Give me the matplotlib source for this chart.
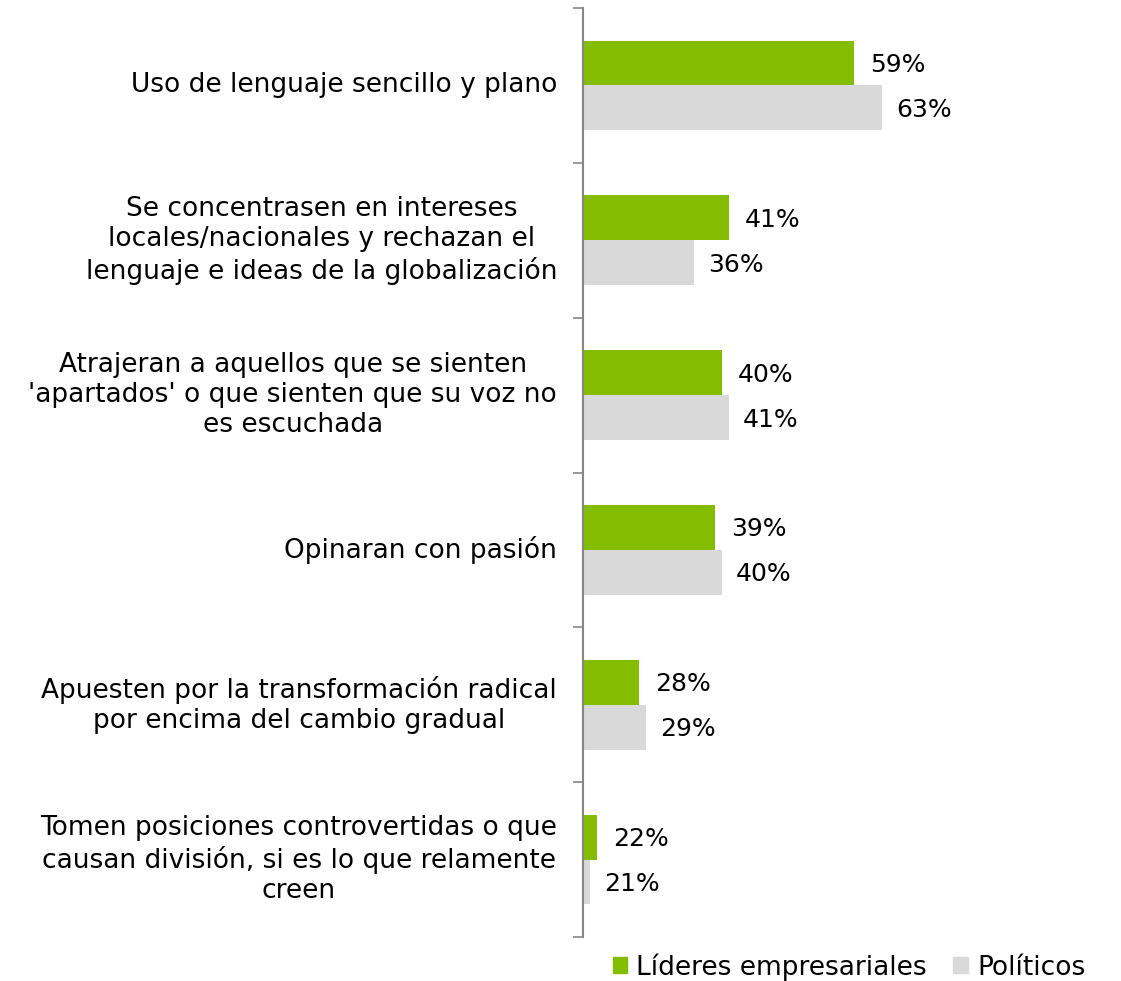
import matplotlib
matplotlib.use("Agg")
import matplotlib.pyplot as plt
from matplotlib.patches import Patch
import numpy as np

plt.rcParams["font.family"] = ["DejaVu Sans"]

categories = [
    "Uso de lenguaje sencillo y plano",
    "Se concentrasen en intereses\nlocales/nacionales y rechazan el\nlenguaje e ideas de la globalización",
    "Atrajeran a aquellos que se sienten\n'apartados' o que sienten que su voz no\nes escuchada",
    "Opinaran con pasión",
    "Apuesten por la transformación radical\npor encima del cambio gradual",
    "Tomen posiciones controvertidas o que\ncausan división, si es lo que relamente\ncreen",
]
lideres = [59, 41, 40, 39, 28, 22]
politicos = [63, 36, 41, 40, 29, 21]
series_names = ["Líderes empresariales", "Políticos"]

GREEN = "#84BC00"
GREY = "#D9D9D9"
AXIS = "#868686"
FS = 19
FS_VAL = 18

fig = plt.figure(figsize=(11.21, 9.81), dpi=100)
ax = fig.add_axes([583 / 1121, 1 - 937 / 981, (931 - 583) / 1121, (937 - 8) / 981])

y = np.arange(len(categories))
h = 0.29
base = 20
ax.barh(y - h / 2, np.array(lideres) - base, left=base, height=h, color=GREEN)
ax.barh(y + h / 2, np.array(politicos) - base, left=base, height=h, color=GREY)

for yi, v in zip(y, lideres):
    ax.annotate(f"{v}%", (v, yi - h / 2), xytext=(16, -2), textcoords="offset pixels",
                ha="left", va="center", fontsize=FS_VAL)
for yi, v in zip(y, politicos):
    ax.annotate(f"{v}%", (v, yi + h / 2), xytext=(14, -2), textcoords="offset pixels",
                ha="left", va="center", fontsize=FS_VAL)

for yi, lab in zip(y, categories):
    ax.annotate(lab, (0, yi), xycoords=("axes fraction", "data"), xytext=(-26, 0),
                textcoords="offset pixels", ha="right", va="center", ma="center",
                fontsize=FS, linespacing=1.22)

ax.set_xlim(base, 70)
ax.set_ylim(len(categories) - 0.5, -0.5)
ax.set_yticks(np.arange(-0.5, len(categories), 1.0))
ax.set_yticklabels([])
ax.tick_params(axis="y", direction="out", length=7, width=1.2, color=AXIS)
ax.set_xticks([])
for s in ["top", "right", "bottom"]:
    ax.spines[s].set_visible(False)
ax.spines["left"].set_color(AXIS)
ax.spines["left"].set_linewidth(1.5)

handles = [Patch(color=GREEN), Patch(color=GREY)]
fig.legend(handles, series_names, loc="center", bbox_to_anchor=(849 / 1121, 14 / 981),
           ncol=2, frameon=False, fontsize=FS, handlelength=0.55, handleheight=0.55,
           handletextpad=0.35, columnspacing=1.0, borderpad=0)

fig.savefig("out.png", dpi=100)
